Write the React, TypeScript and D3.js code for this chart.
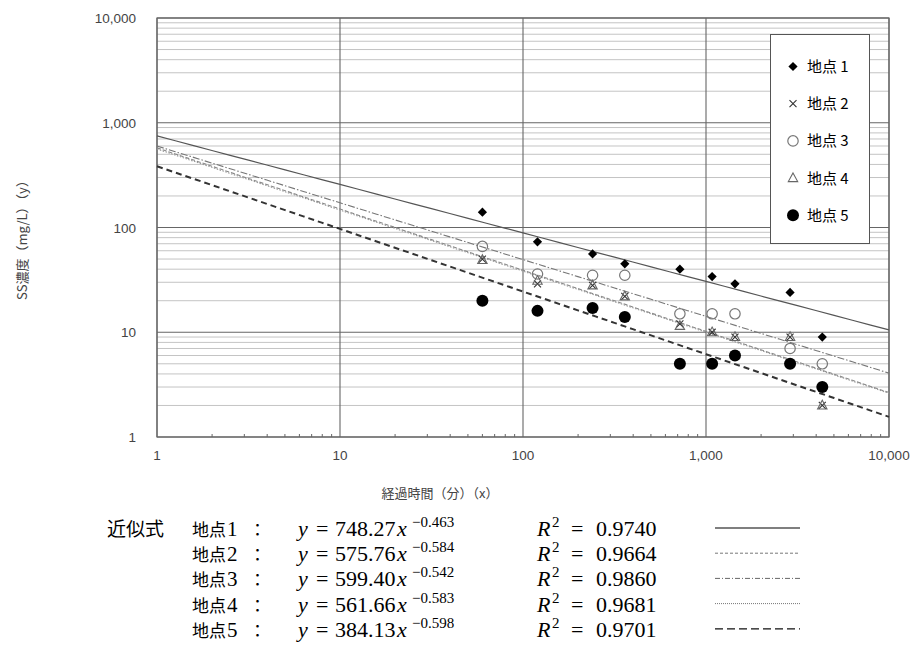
import React from "react";
import * as d3 from "d3";

const times = [60, 120, 240, 360, 720, 1080, 1440, 2880, 4320];
const site1 = [140, 73, 56, 45, 40, 34, 29, 24, 9];
const site2 = [50, 29, 28, 22, 12, 10, 9, 9, 2];
const site3 = [66, 36, 35, 35, 15, 15, 15, 7, 5];
const site4 = [49, 31, 28, 22, 11.5, 10, 9, 9, 2];
const site5 = [20, 16, 17, 14, 5, 5, 6, 5, 3];
const siteNames = ["地点 1", "地点 2", "地点 3", "地点 4", "地点 5"];
const siteNums = ["1", "2", "3", "4", "5"];
const fitA = ["748.27", "575.76", "599.40", "561.66", "384.13"];
const fitB = ["−0.463", "−0.584", "−0.542", "−0.583", "−0.598"];
const fitAnum = [748.27, 575.76, 599.4, 561.66, 384.13];
const fitBnum = [-0.463, -0.584, -0.542, -0.583, -0.598];
const r2 = ["0.9740", "0.9664", "0.9860", "0.9681", "0.9701"];
const majorTicks = [1, 10, 100, 1000, 10000];
const xTitle = "経過時間（分）（x）";
const yTitle = "SS濃度（mg/L）（y）";
const formulaLabel = "近似式";

const W = 911, H = 645;
const L = 157, R = 889, T = 18, B = 437;

const lineStyles = [
  { stroke: "#555", width: 1.2, dash: "" },
  { stroke: "#888", width: 1.1, dash: "4,2" },
  { stroke: "#777", width: 1.1, dash: "7,2,1.5,2" },
  { stroke: "#999", width: 1.1, dash: "1.5,1.5" },
  { stroke: "#333", width: 2, dash: "6,4" },
];

const sampleStyles = [
  { stroke: "#000", width: 1.2, dash: "" },
  { stroke: "#777", width: 1, dash: "3,2" },
  { stroke: "#666", width: 1, dash: "5,2,1,2" },
  { stroke: "#777", width: 1, dash: "1,1" },
  { stroke: "#111", width: 1.2, dash: "8,4" },
];

function Marker({ kind, x, y }: { kind: number; x: number; y: number }) {
  if (kind === 0)
    return <path d={`M${x},${y - 4.6}L${x + 4.6},${y}L${x},${y + 4.6}L${x - 4.6},${y}Z`} fill="#000" />;
  if (kind === 1)
    return (
      <path d={`M${x - 3.5},${y - 3.5}L${x + 3.5},${y + 3.5}M${x + 3.5},${y - 3.5}L${x - 3.5},${y + 3.5}`} stroke="#333" strokeWidth={1.1} fill="none" />
    );
  if (kind === 2) return <circle cx={x} cy={y} r={5.2} fill="none" stroke="#777" strokeWidth={1.2} />;
  if (kind === 3)
    return <path d={`M${x},${y - 5.2}L${x + 4.7},${y + 3.5}L${x - 4.7},${y + 3.5}Z`} fill="none" stroke="#666" strokeWidth={1.1} />;
  return <circle cx={x} cy={y} r={6} fill="#000" />;
}

export default function App() {
  const x = d3.scaleLog().domain([1, 10000]).range([L, R]);
  const y = d3.scaleLog().domain([1, 10000]).range([B, T]);
  const fmt = d3.format(",");
  const sites = [site1, site2, site3, site4, site5];

  const minors: number[] = [];
  for (let d = 1; d < 10000; d *= 10) for (let k = 2; k <= 9; k++) minors.push(d * k);

  const fitPath = (i: number) => {
    const xs = d3.range(0, 41).map((k) => Math.pow(10, k / 10));
    return d3
      .line<number>()
      .x((v) => x(v))
      .y((v) => y(fitAnum[i] * Math.pow(v, fitBnum[i])))(xs) as string;
  };

  const rowY = (i: number) => 536 + i * 25.2;
  const cjk = "'Noto Sans CJK JP', sans-serif";
  const serif = "'Liberation Serif', 'DejaVu Serif', serif";

  return (
    <svg width={W} height={H} style={{ position: "absolute", left: 0, top: 0, background: "#fff" }} fontFamily="'Liberation Sans', Arial, sans-serif">
      <rect x={0} y={0} width={W} height={H} fill="#fff" />
      {minors.map((m) => (
        <line key={"mg" + m} x1={L} x2={R} y1={y(m)} y2={y(m)} stroke="#c4c4c4" strokeWidth={1} />
      ))}
      {majorTicks.map((m) => (
        <line key={"hy" + m} x1={L} x2={R} y1={y(m)} y2={y(m)} stroke="#666" strokeWidth={1.1} />
      ))}
      {majorTicks.map((m) => (
        <line key={"vx" + m} x1={x(m)} x2={x(m)} y1={T} y2={B} stroke="#666" strokeWidth={1.1} />
      ))}
      {minors.map((m) => (
        <line key={"mt" + m} x1={x(m)} x2={x(m)} y1={B} y2={B - 3} stroke="#666" strokeWidth={1} />
      ))}
      <rect x={L} y={T} width={R - L} height={B - T} fill="none" stroke="#666" strokeWidth={1.2} />

      {fitAnum.map((_, i) => (
        <path
          key={"fit" + i}
          d={fitPath(i)}
          fill="none"
          stroke={lineStyles[i].stroke}
          strokeWidth={lineStyles[i].width}
          strokeDasharray={lineStyles[i].dash}
        />
      ))}

      {sites.map((s, si) =>
        s.map((v, j) => <Marker key={`p${si}-${j}`} kind={si} x={x(times[j])} y={y(v)} />)
      )}

      {majorTicks.map((m) => (
        <text key={"yl" + m} x={136} y={y(m) + 5} textAnchor="end" fontSize={13.5} fill="#444">
          {fmt(m)}
        </text>
      ))}
      {majorTicks.map((m) => (
        <text key={"xl" + m} x={x(m)} y={B + 23} textAnchor="middle" fontSize={13.5} fill="#444">
          {fmt(m)}
        </text>
      ))}
      <text x={440} y={498} textAnchor="middle" fontSize={13} fill="#444" fontFamily={cjk}>
        {xTitle}
      </text>
      <text transform={`translate(27,${237}) rotate(-90)`} textAnchor="middle" fontSize={13} fill="#444" fontFamily={cjk}>
        {yTitle}
      </text>

      {/* legend */}
      <rect x={770.5} y={34.5} width={99} height={209} fill="#fff" stroke="#555" strokeWidth={1} />
      {siteNames.map((n, i) => (
        <g key={"lg" + i}>
          <Marker kind={i} x={793} y={66.5 + i * 37.2} />
          <text x={807} y={66.5 + i * 37.2 + 5.5} fontSize={15} fill="#000" fontFamily={cjk}>
            {n}
          </text>
        </g>
      ))}

      {/* formulas */}
      <g fontFamily={serif} fontSize={22} fill="#000">
        <text x={107} y={rowY(0)} fontFamily={cjk} fontSize={19}>
          {formulaLabel}
        </text>
        {siteNums.map((n, i) => (
          <g key={"f" + i}>
            <text x={192} y={rowY(i)} fontFamily={cjk} fontSize={17}>
              地点
            </text>
            <text x={227} y={rowY(i)} fontSize={21}>
              {n}
            </text>
            <text x={249} y={rowY(i)} fontFamily={cjk} fontSize={17}>
              ：
            </text>
            <text x={298} y={rowY(i)} fontStyle="italic">y</text>
            <text x={316} y={rowY(i)}>=</text>
            <text x={335} y={rowY(i)}>{fitA[i]}</text>
            <text x={397} y={rowY(i)} fontStyle="italic">x</text>
            <text x={412} y={rowY(i) - 9} fontSize={15}>
              {fitB[i]}
            </text>
            <text x={537} y={rowY(i)} fontStyle="italic">R</text>
            <text x={552} y={rowY(i) - 9} fontSize={15}>2</text>
            <text x={571} y={rowY(i)}>=</text>
            <text x={596} y={rowY(i)}>{r2[i]}</text>
            <line
              x1={715}
              x2={800}
              y1={rowY(i) - 8}
              y2={rowY(i) - 8}
              stroke={sampleStyles[i].stroke}
              strokeWidth={sampleStyles[i].width}
              strokeDasharray={sampleStyles[i].dash}
            />
          </g>
        ))}
      </g>
    </svg>
  );
}
